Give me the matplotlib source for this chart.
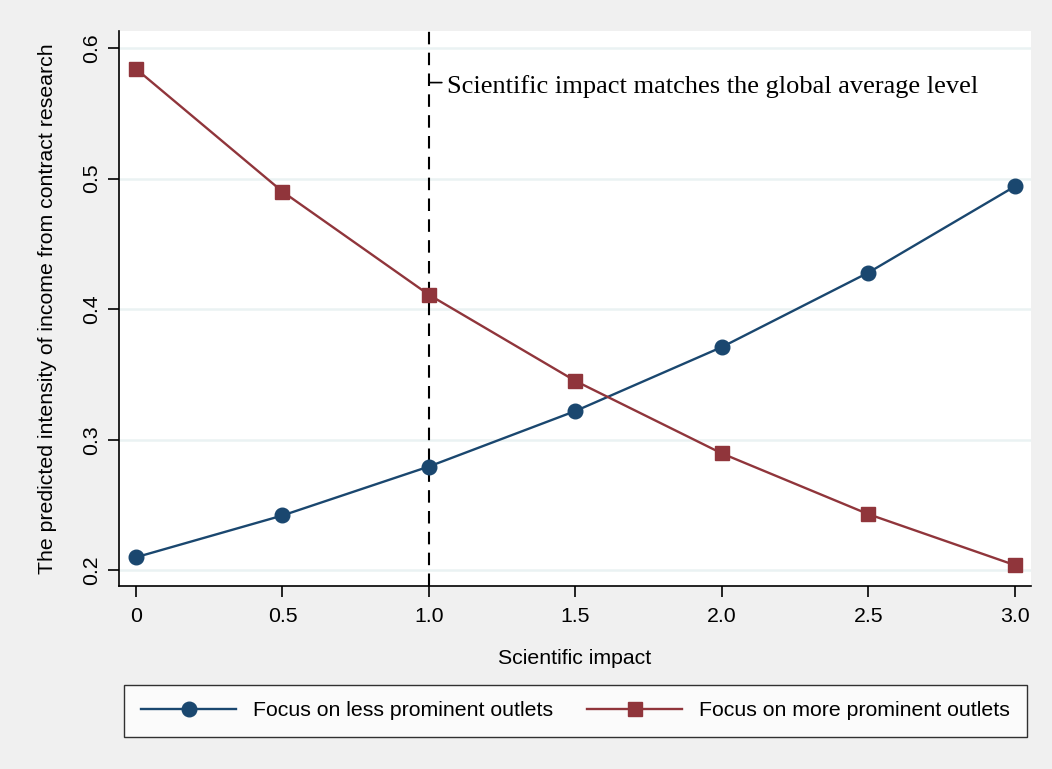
import matplotlib
matplotlib.use("Agg")
import matplotlib.pyplot as plt
from matplotlib.lines import Line2D

impact = [0, 0.5, 1.0, 1.5, 2.0, 2.5, 3.0]
less_prominent = [0.210, 0.242, 0.2795, 0.322, 0.371, 0.428, 0.494]
more_prominent = [0.584, 0.490, 0.411, 0.345, 0.2895, 0.243, 0.204]
xtick_vals = [0, 0.5, 1.0, 1.5, 2.0, 2.5, 3.0]
xtick_labels = ["0", "0.5", "1.0", "1.5", "2.0", "2.5", "3.0"]
ytick_vals = [0.2, 0.3, 0.4, 0.5, 0.6]
ytick_labels = ["0.2", "0.3", "0.4", "0.5", "0.6"]
series_labels = ["Focus on less prominent outlets", "Focus on more prominent outlets"]
vline_x = 1.0
annot_y = 0.5735
annot_text = "Scientific impact matches the global average level"

blue = "#1A476F"
red = "#90353B"
grid_c = "#EAF2F3"
fs = 15.3

plt.rcParams['font.family'] = ['Liberation Sans', 'DejaVu Sans']

fig = plt.figure(figsize=(10.52, 7.69), dpi=100, facecolor="#F0F0F0")
ax = fig.add_axes([119/1052, 1-586/769, (1031-119)/1052, (586-31)/769])
ax.set_facecolor("white")

ax.set_xlim(-0.058, 3.055)
ax.set_ylim(0.188, 0.613)

for yv in ytick_vals:
    ax.axhline(yv, color=grid_c, lw=1.8, zorder=0)

ax.plot(impact, less_prominent, color=blue, lw=1.7, marker='o', markersize=10.5,
        markerfacecolor=blue, markeredgecolor=blue, zorder=3)
ax.plot(impact, more_prominent, color=red, lw=1.7, marker='s', markersize=10.5,
        markerfacecolor=red, markeredgecolor=red, zorder=3)

ax.axvline(vline_x, color="black", lw=1.5, dashes=(6, 4), zorder=2)

# annotation tick + text
ax.annotate("", xy=(vline_x, annot_y), xytext=(vline_x + 0.044, annot_y),
            arrowprops=dict(arrowstyle='-', color='black', lw=1.2, shrinkA=0, shrinkB=0))
ax.text(vline_x + 0.061, annot_y - 0.003, annot_text, family=['Liberation Serif', 'DejaVu Serif'],
        fontsize=19, va='center', ha='left', color='black')

for s in ['top', 'right']:
    ax.spines[s].set_visible(False)
for s in ['left', 'bottom']:
    ax.spines[s].set_color('black')
    ax.spines[s].set_linewidth(1.2)

ax.set_xticks(xtick_vals)
ax.set_xticklabels(xtick_labels, fontsize=fs)
ax.set_yticks(ytick_vals)
ax.set_yticklabels(ytick_labels, fontsize=fs, rotation=90, va='center')
ax.tick_params(axis='both', direction='out', length=8, width=1.2, color='black')
ax.tick_params(axis='x', pad=7)
ax.tick_params(axis='y', pad=5)

ax.set_xlabel("Scientific impact", fontsize=fs, labelpad=17)
ax.set_ylabel("The predicted intensity of income from contract research", fontsize=fs, labelpad=18)

handles = [Line2D([], [], color=blue, lw=1.7, marker='o', markersize=10.5),
           Line2D([], [], color=red, lw=1.7, marker='s', markersize=10.5)]
leg = fig.legend(handles, series_labels, loc='center', ncol=2,
                 bbox_to_anchor=((129+1022)/2/1052, 1-711/769), bbox_transform=fig.transFigure,
                 fontsize=fs, frameon=True, fancybox=False, handlelength=4.47,
                 handletextpad=0.8, columnspacing=1.6, borderpad=0.78, borderaxespad=0)
leg.get_frame().set_edgecolor('black')
leg.get_frame().set_linewidth(1.0)
leg.get_frame().set_facecolor('white')

fig.savefig("out.png", dpi=100, facecolor=fig.get_facecolor())
